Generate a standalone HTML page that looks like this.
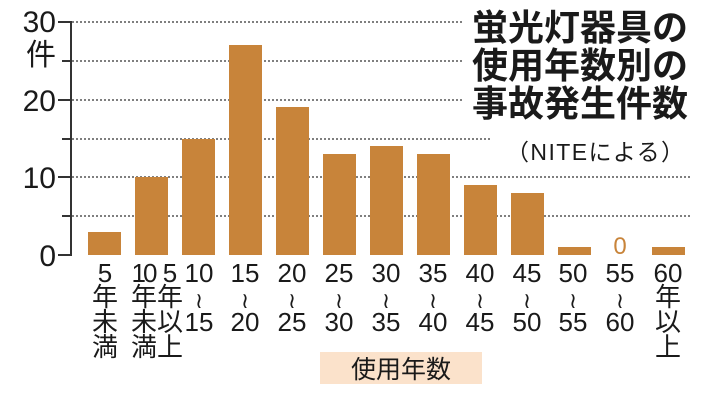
<!DOCTYPE html>
<html><head><meta charset="utf-8"><style>
body{margin:0;background:#fff}
svg text{font-family:"Liberation Sans","Noto Sans CJK JP",sans-serif;fill:#1a1a1a}
</style></head><body>
<svg width="706" height="400" viewBox="0 0 706 400" xmlns="http://www.w3.org/2000/svg">
<g stroke="#555" stroke-width="1.5" stroke-dasharray="2,2">
<line x1="72" y1="22" x2="462" y2="22"/>
<line x1="72" y1="61" x2="462" y2="61"/>
<line x1="72" y1="100" x2="462" y2="100"/>
<line x1="72" y1="139" x2="492" y2="139"/>
<line x1="72" y1="177" x2="692" y2="177"/>
<line x1="72" y1="216" x2="692" y2="216"/>
</g>
<g stroke="#333" stroke-width="2" fill="none">
<polyline points="58,22 71,22 71,255 58,255"/>
<line x1="58" y1="100" x2="71" y2="100"/>
<line x1="58" y1="177" x2="71" y2="177"/>
<line x1="62" y1="61" x2="71" y2="61"/>
<line x1="62" y1="139" x2="71" y2="139"/>
<line x1="62" y1="216" x2="71" y2="216"/>
</g>
<g font-size="30" text-anchor="end">
<text x="56" y="32">30</text>
<text x="56" y="65">件</text>
<text x="56" y="111">20</text>
<text x="56" y="188">10</text>
<text x="56" y="266">0</text>
</g>
<g fill="#c8843a">
<rect x="88" y="232" width="33" height="23"/>
<rect x="135" y="177" width="33" height="78"/>
<rect x="182" y="139" width="33" height="116"/>
<rect x="229" y="45" width="33" height="210"/>
<rect x="276" y="107" width="33" height="148"/>
<rect x="323" y="154" width="33" height="101"/>
<rect x="370" y="146" width="33" height="109"/>
<rect x="417" y="154" width="33" height="101"/>
<rect x="464" y="185" width="33" height="70"/>
<rect x="511" y="193" width="33" height="62"/>
<rect x="558" y="247" width="33" height="8"/>
<rect x="652" y="247" width="33" height="8"/>
</g>
<text x="620" y="254" font-size="24" text-anchor="middle" style="fill:#c8843a">0</text>
<g font-size="26" text-anchor="middle">
<text x="105" y="282">5</text><text x="105" y="306">年</text><text x="105" y="331">未</text><text x="105" y="356">満</text>
<text x="143" y="282" letter-spacing="-3">10</text><text x="144" y="306">年</text><text x="144" y="331">未</text><text x="144" y="356">満</text>
<text x="170" y="282">5</text><text x="170" y="306">年</text><text x="170" y="331">以</text><text x="170" y="356">上</text>
<text x="668" y="282">60</text><text x="668" y="306">年</text><text x="668" y="331">以</text><text x="668" y="356">上</text>
</g>
<g font-size="26" text-anchor="middle">
<text y="282"><tspan x="199">10</tspan><tspan x="245">15</tspan><tspan x="292">20</tspan><tspan x="339">25</tspan><tspan x="386">30</tspan><tspan x="433">35</tspan><tspan x="480">40</tspan><tspan x="527">45</tspan><tspan x="573">50</tspan><tspan x="620">55</tspan></text>
<text y="331"><tspan x="199">15</tspan><tspan x="245">20</tspan><tspan x="292">25</tspan><tspan x="339">30</tspan><tspan x="386">35</tspan><tspan x="433">40</tspan><tspan x="480">45</tspan><tspan x="527">50</tspan><tspan x="573">55</tspan><tspan x="620">60</tspan></text>
</g>
<g font-size="22" text-anchor="middle">
<text x="199" y="308">≀</text><text x="245" y="308">≀</text><text x="292" y="308">≀</text><text x="339" y="308">≀</text><text x="386" y="308">≀</text><text x="433" y="308">≀</text><text x="480" y="308">≀</text><text x="527" y="308">≀</text><text x="573" y="308">≀</text><text x="620" y="308">≀</text>
</g>
<rect x="320" y="352" width="162" height="32" fill="#fbe2cb"/>
<text x="401" y="378" font-size="25" text-anchor="middle">使用年数</text>
<g font-size="36" font-weight="bold" text-anchor="end">
<text x="688" y="40" textLength="216">蛍光灯器具の</text>
<text x="688" y="78" textLength="216">使用年数別の</text>
<text x="688" y="116" textLength="216">事故発生件数</text>
</g>
<text x="684" y="160" font-size="23" text-anchor="end" textLength="178">（NITEによる）</text>
</svg>
</body></html>
